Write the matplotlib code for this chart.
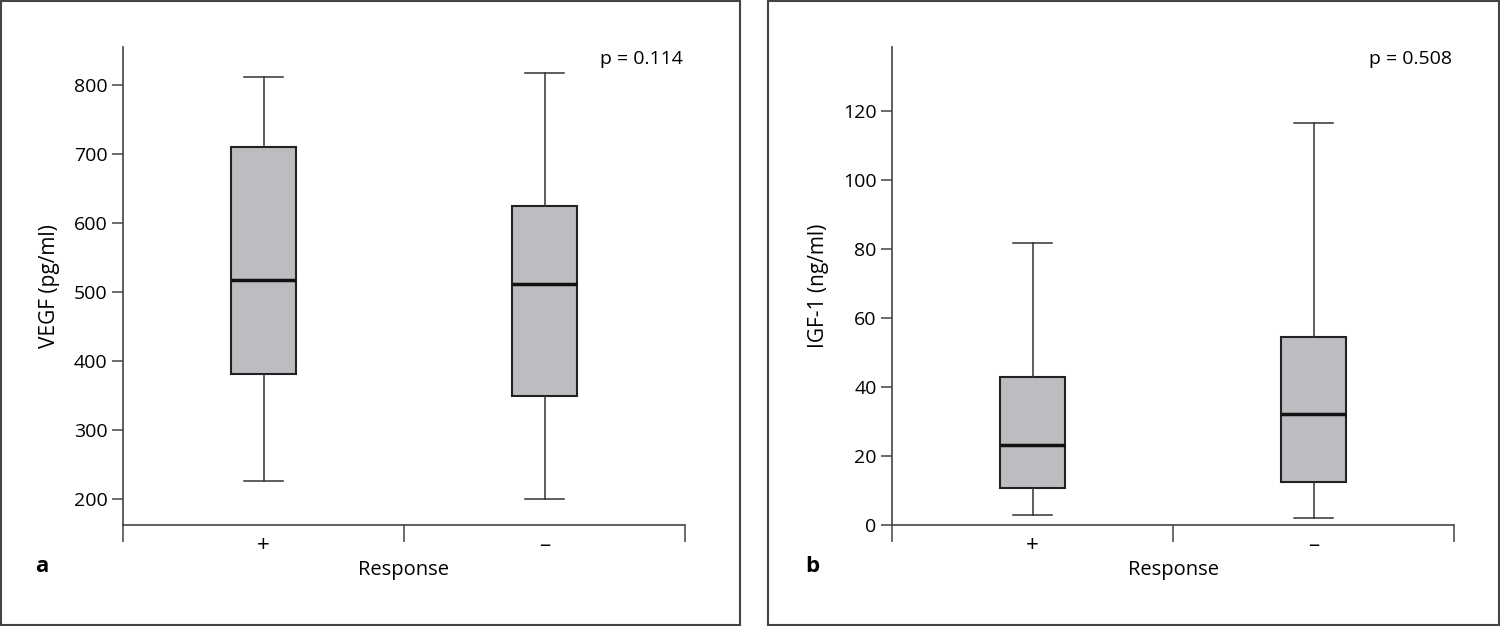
import matplotlib.pyplot as plt
from matplotlib.patches import Rectangle

plt.rcParams['font.family'] = ['Open Sans', 'DejaVu Sans']
plt.rcParams['font.size'] = 13

# data: whisker low, Q1, median, Q3, whisker high
groups = ['+', '\u2013']
vegf_low = [226, 200]
vegf_q1 = [381, 349]
vegf_med = [517, 512]
vegf_q3 = [710, 625]
vegf_high = [812, 818]

igf_low = [2.9, 2.0]
igf_q1 = [10.7, 12.5]
igf_med = [23.2, 32.2]
igf_q3 = [42.9, 54.5]
igf_high = [81.7, 116.5]

p_values = ['p = 0.114', 'p = 0.508']
ylabels = ['VEGF (pg/ml)', 'IGF-1 (ng/ml)']
panel_tags = ['a', 'b']

fig = plt.figure(figsize=(15, 6.26), dpi=100)

# panel frames
for x0, x1 in [(1, 740), (768, 1499)]:
    fig.patches.append(Rectangle((x0 / 1500, 1 / 626), (x1 - x0) / 1500, 624 / 626,
                                 transform=fig.transFigure, fill=False,
                                 edgecolor='#444444', linewidth=1.5))

ax_a = fig.add_axes([123 / 1500, 1 - 525 / 626, 562 / 1500, 478 / 626])
ax_b = fig.add_axes([892 / 1500, 1 - 525 / 626, 562 / 1500, 478 / 626])


def make_stats(low, q1, med, q3, high):
    return [dict(whislo=l, q1=a, med=m, q3=b, whishi=h, fliers=[])
            for l, a, m, b, h in zip(low, q1, med, q3, high)]


datasets = [
    (ax_a, make_stats(vegf_low, vegf_q1, vegf_med, vegf_q3, vegf_high), (162.3, 855), [200, 300, 400, 500, 600, 700, 800]),
    (ax_b, make_stats(igf_low, igf_q1, igf_med, igf_q3, igf_high), (0, 138.5), [0, 20, 40, 60, 80, 100, 120]),
]

for i, (ax, stats, ylim, yticks) in enumerate(datasets):
    ax.bxp(stats, positions=[0.5, 1.5], widths=0.228, capwidths=0.142,
           patch_artist=True, showfliers=False,
           boxprops=dict(facecolor='#bcbdc0', edgecolor='#222222', linewidth=1.5),
           medianprops=dict(color='#111111', linewidth=2.5),
           whiskerprops=dict(color='#333333', linewidth=1.1),
           capprops=dict(color='#333333', linewidth=1.1))
    ax.set_xlim(0, 2)
    ax.set_ylim(*ylim)
    ax.set_yticks(yticks)
    ax.set_xticks([0, 1, 2])
    ax.set_xticklabels([])
    ax.set_xticks([0.5, 1.5], minor=True)
    ax.set_xticklabels(groups, minor=True, fontsize=16)
    ax.tick_params(axis='x', which='major', direction='out', length=12, width=1.1, color='#444444')
    ax.tick_params(axis='x', which='minor', length=0, pad=7)
    ax.tick_params(axis='y', direction='out', length=8, width=1.1, color='#444444', labelsize=14, pad=3)
    for s in ['top', 'right']:
        ax.spines[s].set_visible(False)
    for s in ['left', 'bottom']:
        ax.spines[s].set_color('#444444')
        ax.spines[s].set_linewidth(1.2)
    ax.set_ylabel(ylabels[i], fontsize=15, labelpad=10)
    ax.set_xlabel('Response', fontsize=14.5, labelpad=3)
    ax.text(0.922, 0.975, p_values[i], transform=ax.transAxes, ha='center', va='center', fontsize=14)

fig.text(42 / 1500, 1 - 567 / 626, panel_tags[0], fontsize=16, fontweight='bold', ha='center', va='center')
fig.text(812 / 1500, 1 - 567 / 626, panel_tags[1], fontsize=16, fontweight='bold', ha='center', va='center')

fig.savefig('out.png', dpi=100)
